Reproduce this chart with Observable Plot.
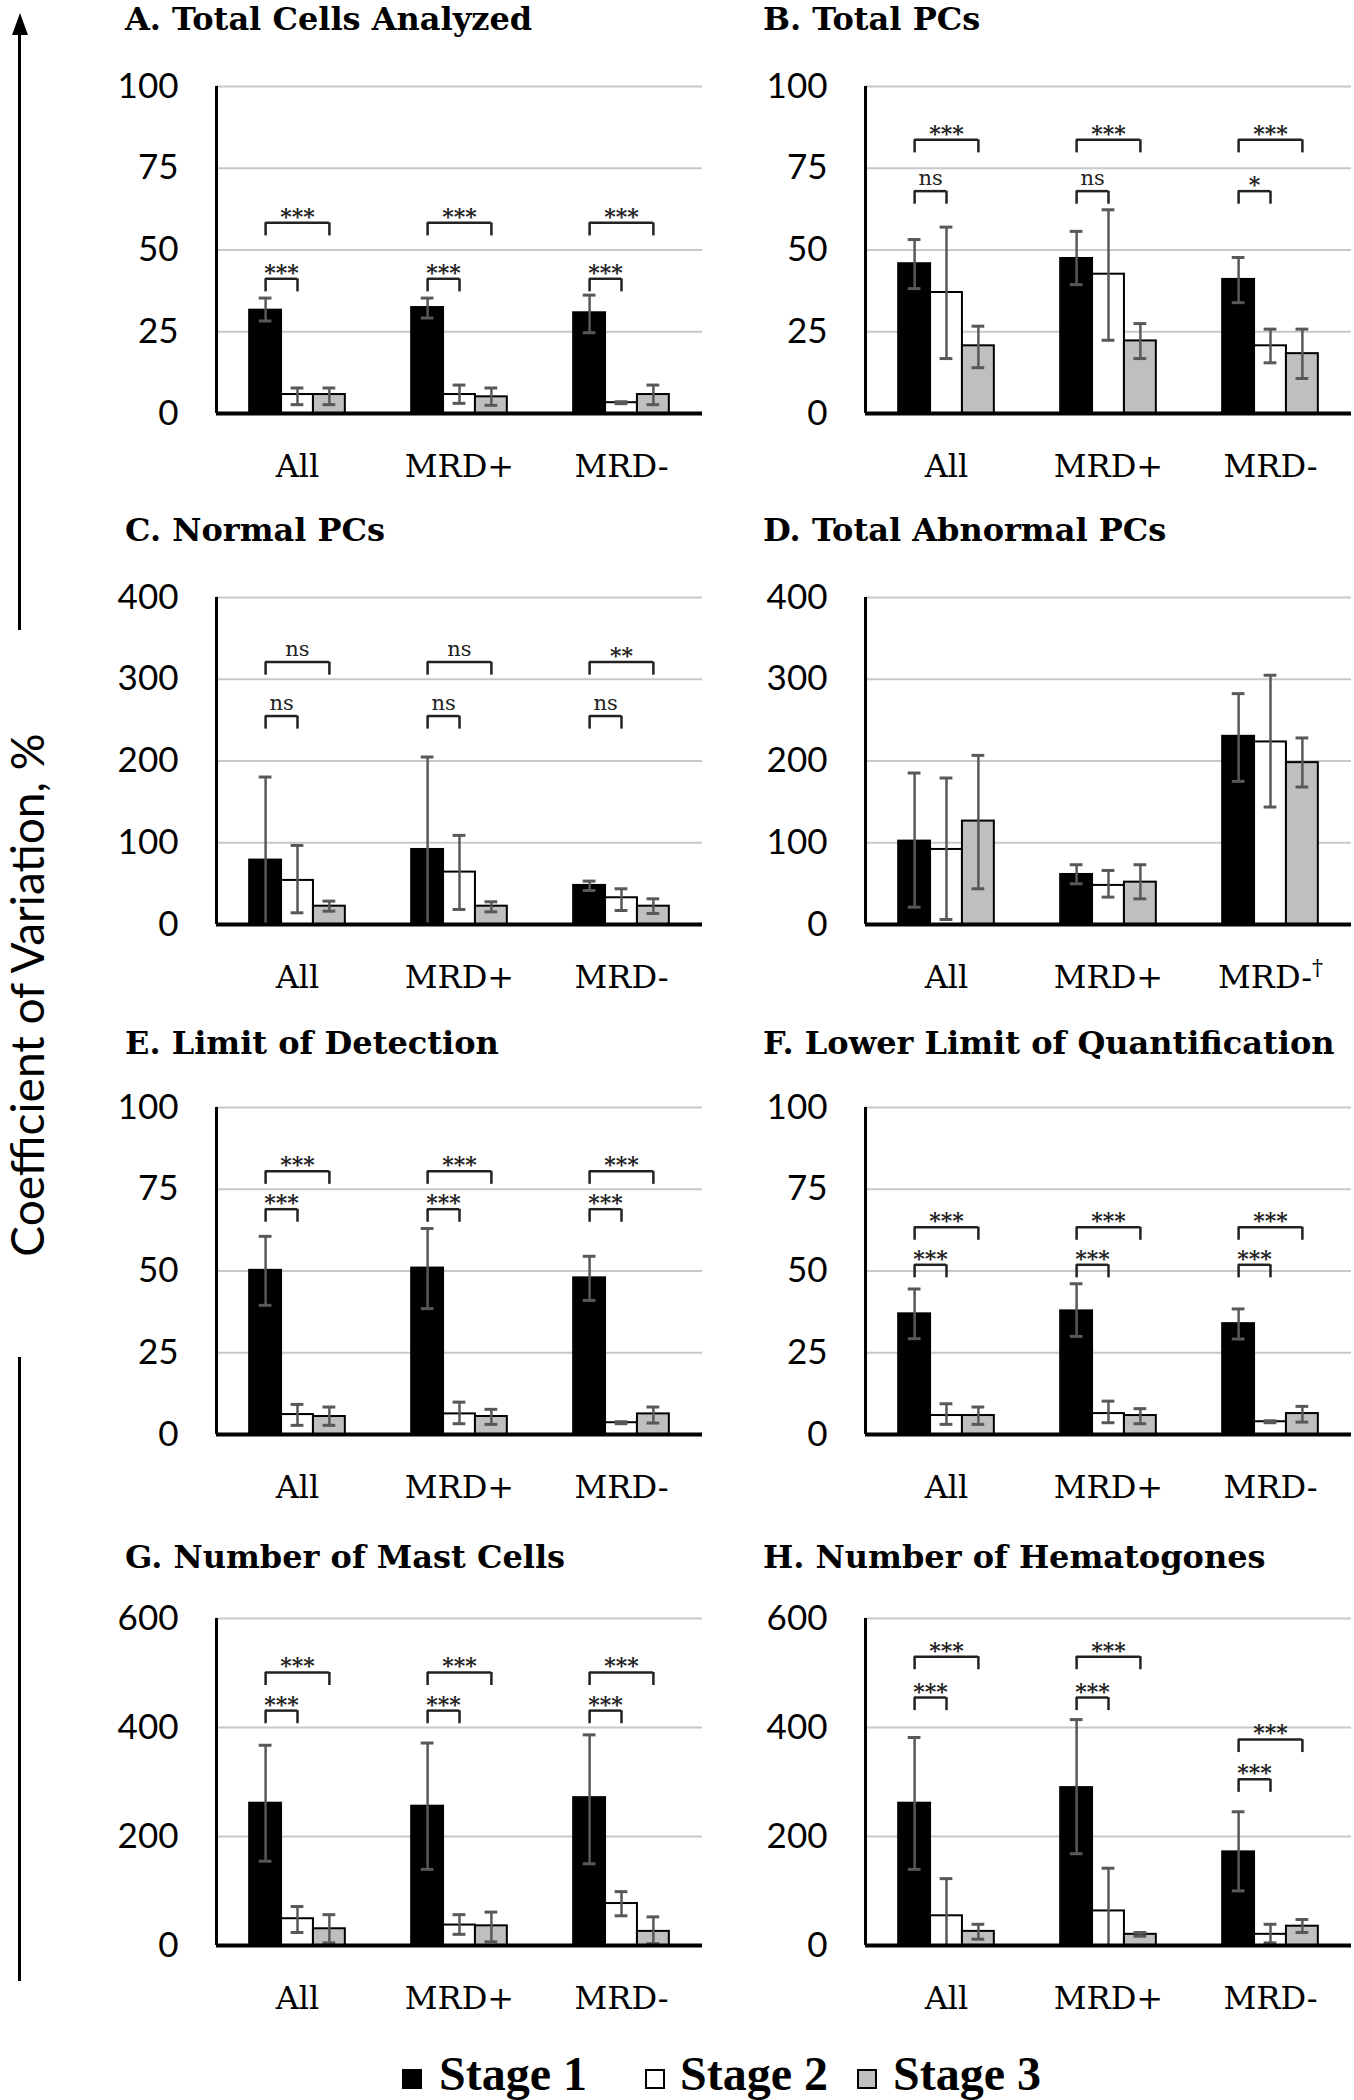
<!DOCTYPE html>
<html>
<head>
<meta charset="utf-8">
<script src="https://cdn.jsdelivr.net/npm/d3@7"></script>
<script src="https://cdn.jsdelivr.net/npm/@observablehq/plot@0.6"></script>
<style>
html, body { margin: 0; padding: 0; background: #fff; }
#fig { position: relative; width: 1354px; height: 2100px; background: #fff; overflow: hidden; }
.title { position: absolute; font-family: "DejaVu Serif", serif; font-weight: bold; font-size: 32px; line-height: 38px; white-space: nowrap; color: #000; }
.panel { position: absolute; }
.vline { position: absolute; width: 3px; background: #000; }
.arrowhead { position: absolute; width: 0; height: 0; border-left: 8px solid transparent; border-right: 8px solid transparent; border-bottom: 22px solid #000; }
.ylabel { position: absolute; width: 700px; text-align: center; font-family: "Lato", sans-serif; font-size: 46px; line-height: 50px; color: #000; transform: rotate(-90deg); transform-origin: 50% 50%; white-space: nowrap; }
.sw { position: absolute; width: 20px; height: 20px; box-sizing: border-box; border: 2px solid #000; }
.lt { position: absolute; font-family: "Liberation Serif", serif; font-weight: bold; font-size: 48px; line-height: 48px; white-space: nowrap; color: #000; }
</style>
</head>
<body>
<div id="fig"></div>
<script>
// ---------- data ----------
const categories = ["All", "MRD+", "MRD-"];
const stages = ["Stage 1", "Stage 2", "Stage 3"];
const stageIdx = [1, 2, 3];

const titles = [
  "A. Total Cells Analyzed", "B. Total PCs",
  "C. Normal PCs", "D. Total Abnormal PCs",
  "E. Limit of Detection", "F. Lower Limit of Quantification",
  "G. Number of Mast Cells", "H. Number of Hematogones"
];
const yLabel = "Coefficient of Variation, %";

const ticks100 = [0, 25, 50, 75, 100];
const ticks400 = [0, 100, 200, 300, 400];
const ticks600 = [0, 200, 400, 600];

// values ordered: All(S1,S2,S3), MRD+(S1,S2,S3), MRD-(S1,S2,S3)
const meanA = [31.6, 5.8, 5.8, 32.4, 5.8, 5.1, 30.8, 3.3, 5.8];
const hiA   = [35.3, 7.8, 7.8, 35.3, 8.7, 7.8, 36.2, 3.6, 8.7];
const loA   = [28.3, 2.7, 2.7, 29.2, 3.1, 2.5, 24.7, 3.0, 2.7];

const meanB = [45.8, 37.0, 20.7, 47.4, 42.6, 22.2, 41.0, 20.7, 18.3];
const hiB   = [53.2, 57.0, 26.7, 55.7, 62.3, 27.5, 47.7, 25.8, 25.8];
const loB   = [38.2, 16.8, 14.0, 39.4, 22.4, 16.8, 33.9, 15.5, 10.7];

const meanC = [78.8, 53.9, 22.4, 91.8, 64.1, 22.4, 47.8, 32.7, 22.4];
const hiC   = [180.4, 96.7, 28.6, 204.9, 109.0, 27.8, 53.1, 43.7, 31.4];
const loC   = [0, 14.3, 16.3, 0, 18.4, 15.5, 41.6, 17.1, 13.5];

const meanD = [102.0, 91.8, 126.5, 61.2, 47.8, 51.8, 230.2, 223.3, 198.0];
const hiD   = [185.3, 179.2, 206.9, 73.1, 66.1, 73.1, 282.4, 304.9, 228.2];
const loD   = [21.2, 6.1, 43.7, 49.8, 33.5, 31.4, 175.1, 143.7, 168.2];

const meanE = [50.2, 6.1, 5.5, 50.9, 6.3, 5.5, 47.9, 3.6, 6.3];
const hiE   = [60.6, 9.2, 8.4, 63.0, 9.9, 7.7, 54.5, 3.9, 8.4];
const loE   = [39.5, 2.8, 2.8, 38.5, 3.3, 3.1, 41.0, 3.3, 3.5];

const meanF = [36.9, 5.8, 5.8, 37.8, 6.4, 5.8, 33.9, 3.9, 6.4];
const hiF   = [44.5, 9.4, 8.4, 46.1, 10.2, 7.9, 38.4, 4.2, 8.6];
const loF   = [29.3, 3.1, 3.1, 30.0, 3.6, 3.3, 29.2, 3.6, 3.8];

const meanG = [261.1, 49.1, 30.7, 255.6, 37.5, 36.1, 271.3, 77.0, 25.9];
const hiG   = [367.4, 71.6, 56.6, 371.5, 56.6, 61.3, 386.5, 98.8, 52.5];
const loG   = [154.7, 23.9, 4.8, 139.7, 20.5, 6.8, 150.0, 54.5, 3.4];

const meanH = [261.1, 54.5, 25.9, 289.7, 63.4, 20.5, 171.8, 20.5, 35.4];
const hiH   = [381.7, 122.7, 38.9, 414.5, 141.8, 23.9, 245.4, 38.9, 47.7];
const loH   = [139.7, 0, 11.6, 168.4, 0, 17.0, 100.2, 4.8, 23.9];

// significance brackets: category, from stage, to stage, level, label
const bracketsA = [
  {cat: "All", from: 1, to: 2, level: 41.2, label: "***"}, {cat: "All", from: 1, to: 3, level: 58.3, label: "***"},
  {cat: "MRD+", from: 1, to: 2, level: 41.2, label: "***"}, {cat: "MRD+", from: 1, to: 3, level: 58.3, label: "***"},
  {cat: "MRD-", from: 1, to: 2, level: 41.2, label: "***"}, {cat: "MRD-", from: 1, to: 3, level: 58.3, label: "***"}
];
const bracketsB = [
  {cat: "All", from: 1, to: 2, level: 68.0, label: "ns"}, {cat: "All", from: 1, to: 3, level: 83.7, label: "***"},
  {cat: "MRD+", from: 1, to: 2, level: 68.0, label: "ns"}, {cat: "MRD+", from: 1, to: 3, level: 83.7, label: "***"},
  {cat: "MRD-", from: 1, to: 2, level: 68.0, label: "*"}, {cat: "MRD-", from: 1, to: 3, level: 83.7, label: "***"}
];
const bracketsC = [
  {cat: "All", from: 1, to: 2, level: 255, label: "ns"}, {cat: "All", from: 1, to: 3, level: 321, label: "ns"},
  {cat: "MRD+", from: 1, to: 2, level: 255, label: "ns"}, {cat: "MRD+", from: 1, to: 3, level: 321, label: "ns"},
  {cat: "MRD-", from: 1, to: 2, level: 255, label: "ns"}, {cat: "MRD-", from: 1, to: 3, level: 321, label: "**"}
];
const bracketsD = [];
const bracketsE = [
  {cat: "All", from: 1, to: 2, level: 68.9, label: "***"}, {cat: "All", from: 1, to: 3, level: 80.5, label: "***"},
  {cat: "MRD+", from: 1, to: 2, level: 68.9, label: "***"}, {cat: "MRD+", from: 1, to: 3, level: 80.5, label: "***"},
  {cat: "MRD-", from: 1, to: 2, level: 68.9, label: "***"}, {cat: "MRD-", from: 1, to: 3, level: 80.5, label: "***"}
];
const bracketsF = [
  {cat: "All", from: 1, to: 2, level: 51.9, label: "***"}, {cat: "All", from: 1, to: 3, level: 63.4, label: "***"},
  {cat: "MRD+", from: 1, to: 2, level: 51.9, label: "***"}, {cat: "MRD+", from: 1, to: 3, level: 63.4, label: "***"},
  {cat: "MRD-", from: 1, to: 2, level: 51.9, label: "***"}, {cat: "MRD-", from: 1, to: 3, level: 63.4, label: "***"}
];
const bracketsG = [
  {cat: "All", from: 1, to: 2, level: 431, label: "***"}, {cat: "All", from: 1, to: 3, level: 501, label: "***"},
  {cat: "MRD+", from: 1, to: 2, level: 431, label: "***"}, {cat: "MRD+", from: 1, to: 3, level: 501, label: "***"},
  {cat: "MRD-", from: 1, to: 2, level: 431, label: "***"}, {cat: "MRD-", from: 1, to: 3, level: 501, label: "***"}
];
const bracketsH = [
  {cat: "All", from: 1, to: 2, level: 455, label: "***"}, {cat: "All", from: 1, to: 3, level: 530, label: "***"},
  {cat: "MRD+", from: 1, to: 2, level: 455, label: "***"}, {cat: "MRD+", from: 1, to: 3, level: 530, label: "***"},
  {cat: "MRD-", from: 1, to: 2, level: 305, label: "***"}, {cat: "MRD-", from: 1, to: 3, level: 378, label: "***"}
];

// ---------- layout / style ----------
const fills = ["#000000", "#ffffff", "#bfbfbf"];
const xHalf = 2.54;          // half-width of a group's x domain, in bar units
const colLeft = [105, 754];   // svg left per column
const rowTop = [66, 577, 1087, 1598]; // svg top per row
const titleLeft = [125, 763];
const titleTop = [0, 511, 1024, 1538];

const panels = [
  {mean: meanA, hi: hiA, lo: loA, br: bracketsA, yMax: 100, ticks: ticks100},
  {mean: meanB, hi: hiB, lo: loB, br: bracketsB, yMax: 100, ticks: ticks100},
  {mean: meanC, hi: hiC, lo: loC, br: bracketsC, yMax: 400, ticks: ticks400},
  {mean: meanD, hi: hiD, lo: loD, br: bracketsD, yMax: 400, ticks: ticks400, dagger: true},
  {mean: meanE, hi: hiE, lo: loE, br: bracketsE, yMax: 100, ticks: ticks100},
  {mean: meanF, hi: hiF, lo: loF, br: bracketsF, yMax: 100, ticks: ticks100},
  {mean: meanG, hi: hiG, lo: loG, br: bracketsG, yMax: 600, ticks: ticks600},
  {mean: meanH, hi: hiH, lo: loH, br: bracketsH, yMax: 600, ticks: ticks600}
];

const fig = document.getElementById("fig");
const errColor = "#585858";

function makePanel(p) {
  const rows = [];
  categories.forEach((cat, ci) => stageIdx.forEach((s, si) => {
    const k = ci * 3 + si;
    rows.push({cat, s, stage: stages[si], v: p.mean[k], hi: p.hi[k], lo: p.lo[k]});
  }));
  const leg = p.yMax * 0.04;
  const legs = p.br.flatMap(b => [{cat: b.cat, x: b.from, level: b.level}, {cat: b.cat, x: b.to, level: b.level}]);
  const starLabels = p.br.filter(b => b.label !== "ns");
  const nsLabels = p.br.filter(b => b.label === "ns");
  const svg = Plot.plot({
    width: 600, height: 427,
    marginLeft: 110, marginRight: 3, marginTop: 20, marginBottom: 80,
    fx: {domain: categories, padding: 0, label: null},
    x: {domain: [2 - xHalf, 2 + xHalf], axis: null},
    y: {domain: [0, p.yMax], axis: null},
    style: {background: "transparent", color: "#000", overflow: "visible"},
    marks: [
      Plot.gridY(p.ticks.filter(t => t > 0), {stroke: "#c8c8c8", strokeOpacity: 1, strokeWidth: 2}),
      Plot.axisY({ticks: p.ticks, tickSize: 0, tickPadding: 38, fontSize: 35, fontFamily: "Lato", label: null}),
      Plot.axisFx({anchor: "bottom", tickSize: 0, tickPadding: 41, fontSize: 32, fontFamily: "DejaVu Serif", label: null,
        tickFormat: d => (p.dagger && d === "MRD-") ? "MRD-\u2020" : d}),
      Plot.rectY(rows, {fx: "cat", x1: d => d.s - 0.5, x2: d => d.s + 0.5, y1: 0, y2: "v",
        fill: d => fills[d.s - 1], stroke: "#000", strokeWidth: 2}),
      Plot.ruleX(rows, {fx: "cat", x: "s", y1: "lo", y2: "hi", stroke: errColor, strokeWidth: 2.5}),
      Plot.ruleY(rows, {fx: "cat", x1: d => d.s - 0.2, x2: d => d.s + 0.2, y: "hi", stroke: errColor, strokeWidth: 3}),
      Plot.ruleY(rows, {fx: "cat", x1: d => d.s - 0.2, x2: d => d.s + 0.2, y: "lo", stroke: errColor, strokeWidth: 3}),
      Plot.ruleY([0], {stroke: "#000", strokeWidth: 4}),
      Plot.ruleX([{cat: categories[0]}], {fx: "cat", x: () => 2 - xHalf, y1: 0, y2: p.yMax, stroke: "#000", strokeWidth: 3}),
      Plot.ruleY(p.br, {fx: "cat", x1: "from", x2: "to", y: "level", stroke: "#222", strokeWidth: 2.5}),
      Plot.ruleX(legs, {fx: "cat", x: "x", y1: d => d.level - leg, y2: "level", stroke: "#222", strokeWidth: 2.5}),
      Plot.text(starLabels, {fx: "cat", x: d => (d.from + d.to) / 2, y: "level", text: "label", lineAnchor: "bottom",
        dy: 1, fontSize: 22, fontWeight: "bold", fontFamily: "DejaVu Serif", fill: "#222"}),
      Plot.text(nsLabels, {fx: "cat", x: d => (d.from + d.to) / 2, y: "level", text: "label", lineAnchor: "bottom",
        dy: -6, fontSize: 21, fontFamily: "DejaVu Serif", fill: "#222"})
    ]
  });
  if (p.dagger) {
    svg.querySelectorAll("text").forEach(t => {
      if (t.textContent === "MRD-\u2020") {
        t.textContent = "MRD-";
        const ts = document.createElementNS("http://www.w3.org/2000/svg", "tspan");
        ts.setAttribute("dy", "-0.6em");
        ts.setAttribute("font-size", "22");
        ts.textContent = "\u2020";
        t.appendChild(ts);
      }
    });
  }
  return svg;
}

panels.forEach((p, i) => {
  const col = i % 2, row = Math.floor(i / 2);
  const wrap = document.createElement("div");
  wrap.className = "panel";
  wrap.style.left = colLeft[col] + "px";
  wrap.style.top = rowTop[row] + "px";
  wrap.appendChild(makePanel(p));
  fig.appendChild(wrap);
  const t = document.createElement("div");
  t.className = "title";
  t.style.left = titleLeft[col] + "px";
  t.style.top = titleTop[row] + "px";
  t.textContent = titles[i];
  fig.appendChild(t);
});

// y-axis label with arrow lines
const yl = document.createElement("div");
yl.className = "ylabel";
yl.textContent = yLabel;
yl.style.left = (27 - 350) + "px";
yl.style.top = (995 - 25) + "px";
fig.appendChild(yl);

const l1 = document.createElement("div"); l1.className = "vline";
l1.style.left = "18px"; l1.style.top = "30px"; l1.style.height = (630 - 30) + "px"; fig.appendChild(l1);
const ah = document.createElement("div"); ah.className = "arrowhead";
ah.style.left = "11.5px"; ah.style.top = "13px"; fig.appendChild(ah);
const l2 = document.createElement("div"); l2.className = "vline";
l2.style.left = "18px"; l2.style.top = "1357px"; l2.style.height = (1981 - 1357) + "px"; fig.appendChild(l2);

// legend
const legSwX = [402, 645, 857];
const legTxX = [439, 680, 893];
stages.forEach((s, i) => {
  const sw = document.createElement("div");
  sw.className = "sw";
  sw.style.left = legSwX[i] + "px";
  sw.style.top = "2069px";
  sw.style.background = fills[i];
  fig.appendChild(sw);
  const tx = document.createElement("div");
  tx.className = "lt";
  tx.style.left = legTxX[i] + "px";
  tx.style.top = "2050px";
  tx.textContent = s;
  fig.appendChild(tx);
});
</script>
</body>
</html>
